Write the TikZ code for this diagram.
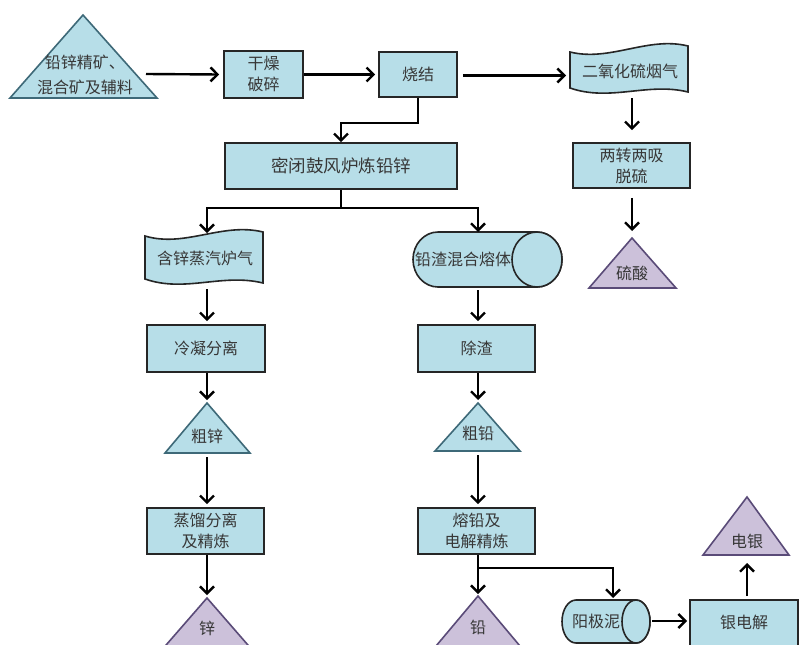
\documentclass[tikz,border=0pt]{standalone}
\usepackage{fontspec}
\newfontfamily\cjk{Noto Sans CJK SC}
\usetikzlibrary{arrows.meta}
\definecolor{bluef}{RGB}{183,222,232}
\definecolor{purf}{RGB}{204,193,218}
\definecolor{tribd}{RGB}{62,105,120}
\definecolor{purbd}{RGB}{90,75,120}
\definecolor{txt}{RGB}{55,55,55}
\begin{document}
\begin{tikzpicture}[x=1pt,y=-1pt,
  txtstyle/.style={inner sep=0pt,align=center,text=txt,font=\cjk\fontsize{16}{21}\selectfont},
  box/.style={txtstyle,draw=black!85,fill=bluef,line width=1.6pt},
  lbl/.style={txtstyle},
  shp/.style={draw=black!85,fill=bluef,line width=1.6pt},
  tri/.style={draw=tribd,fill=bluef,line width=1.6pt,line join=miter},
  ptri/.style={draw=purbd,fill=purf,line width=1.6pt,line join=miter},
  arr/.style={line width=2.4pt,-{Straight Barb[length=7pt,width=14pt,line width=2.4pt]}},
  ln/.style={line width=2.4pt}]
\useasboundingbox (0,0) rectangle (801,645);
\fill[white] (0,0) rectangle (801,645);
\clip (0,0) rectangle (801,645);

% ---------- shapes ----------
\draw[tri] (83,15) -- (157,98) -- (10,98) -- cycle;
\node[lbl,font=\cjk\fontsize{16}{25}\selectfont] (T) at (85,75) {铅锌精矿、\\混合矿及辅料};
\coordinate (Tout) at (146,74);

\node[box,minimum width=79pt,minimum height=47pt] (A) at (263.5,74.5) {干燥\\破碎};
\node[box,minimum width=78pt,minimum height=45pt] (B) at (418,74.5) {烧结};

\draw[shp] (570,52) .. controls (610,62) and (648,36) .. (688,46) -- (688,92)
  .. controls (648,82) and (610,102) .. (570,88) -- cycle;
\node[lbl] (C) at (630,71) {二氧化硫烟气};
\coordinate (Cbot) at (632,98);

\node[box,minimum width=117pt,minimum height=45pt] (D) at (631.5,165.5) {两转两吸\\脱硫};
\draw[ptri] (632,238) -- (676,288) -- (589,288) -- cycle;
\coordinate (Etop) at (632,238);
\node[lbl] (E) at (632,273) {硫酸};

\node[box,minimum width=232pt,minimum height=46pt,font=\cjk\fontsize{17.5}{21}\selectfont] (F) at (341,166) {密闭鼓风炉炼铅锌};

\draw[shp] (145,236) .. controls (185,248) and (222,222) .. (263,232) -- (263,283)
  .. controls (222,273) and (185,293) .. (145,279) -- cycle;
\node[lbl] (G) at (205,258) {含锌蒸汽炉气};
\coordinate (Gtop) at (207,233);
\coordinate (Gbot) at (207,289);

\draw[shp] (537,287) -- (438,287) arc[start angle=90,end angle=270,x radius=25,y radius=27.5]
  -- (537,232) arc[start angle=-90,end angle=90,x radius=25,y radius=27.5] -- cycle;
\draw[shp] (537,259.5) ellipse[x radius=25,y radius=27.5];
\node[lbl] (H) at (463,259) {铅渣混合熔体};
\coordinate (Htop) at (478,232);
\coordinate (Hbot) at (478,290);

\node[box,minimum width=118pt,minimum height=47pt] (I) at (206,348.5) {冷凝分离};
\node[box,minimum width=117pt,minimum height=47pt] (J) at (476.5,348.5) {除渣};

\draw[tri] (207,403) -- (250,453) -- (165,453) -- cycle;
\coordinate (Ktop) at (207,403);
\coordinate (Kbot) at (207,457);
\node[lbl] (K) at (207,436) {粗锌};

\draw[tri] (478,403) -- (520,451) -- (435,451) -- cycle;
\coordinate (Ltop) at (478,403);
\coordinate (Lbot) at (478,455);
\node[lbl] (L) at (478,433) {粗铅};

\node[box,minimum width=117pt,minimum height=46pt] (M) at (205.5,531) {蒸馏分离\\及精炼};
\node[box,minimum width=117pt,minimum height=46pt] (N) at (476.5,531) {熔铅及\\电解精炼};

\draw[ptri] (207,598) -- (254,652) -- (160,652) -- cycle;
\coordinate (Otop) at (207,598);
\node[lbl] (O) at (207,628) {锌};

\draw[ptri] (478,596) -- (525,652) -- (431,652) -- cycle;
\coordinate (Ptop) at (478,596);
\node[lbl] (P) at (478,627) {铅};

\draw[shp] (636,643) -- (576,643) arc[start angle=90,end angle=270,x radius=14,y radius=21.5]
  -- (636,600) arc[start angle=-90,end angle=90,x radius=14,y radius=21.5] -- cycle;
\draw[shp] (636,621.5) ellipse[x radius=14,y radius=21.5];
\node[lbl] (Q) at (596,621) {阳极泥};
\coordinate (Qtop) at (613,600);
\coordinate (Qright) at (652,621);

\draw[shp] (690,600) rectangle (798,652);
\node[lbl] (R) at (744,622) {银电解};
\coordinate (Rtop) at (747,596);
\coordinate (Rleft) at (690,621);

\draw[ptri] (747,497) -- (789,555) -- (703,555) -- cycle;
\coordinate (Sbot) at (747,559);
\node[lbl] (S) at (747,541) {电银};

% ---------- connectors ----------
\draw[arr] (Tout) -- ([xshift=-4pt]A.west);
\draw[arr] (A.east) -- ([xshift=-3pt]B.west);
\draw[arr] ([xshift=5pt,yshift=-1pt]B.east) -- ([yshift=-1pt]B.east -| 566,0);
\draw[arr] (Cbot) -- ([yshift=12pt]D.north -| Cbot);
\draw[arr] ([yshift=-9pt]D.south -| Cbot) -- ([yshift=7pt]Etop);

\draw[ln] (B.south) -- (418,123) coordinate (bf1);
\draw[arr] ([xshift=1.2pt]bf1) -- (bf1 -| F.north) -- (F.north);

\draw[ln] (F.south) -- (341,208) coordinate (fs);
\draw[arr] (fs) -- (fs -| Gtop) -- (Gtop);
\draw[arr] (fs) -- (fs -| Htop) -- (Htop);

\draw[arr] (Gbot) -- ([yshift=3pt]I.north -| Gbot);
\draw[arr] (Hbot) -- ([yshift=3pt]J.north -| Hbot);
\draw[arr] (I.south -| Ktop) -- ([yshift=3pt]Ktop);
\draw[arr] (J.south -| Ltop) -- ([yshift=3pt]Ltop);
\draw[arr] (Kbot) -- ([yshift=3pt]M.north -| Kbot);
\draw[arr] (Lbot) -- ([yshift=3pt]N.north -| Lbot);
\draw[arr] (M.south -| Otop) -- ([yshift=3pt]Otop);
\draw[arr] (N.south -| Ptop) -- ([yshift=2pt]Ptop);
\draw[arr] (Ptop |- 0,568) -- (Qtop |- 0,568) -- ([yshift=2pt]Qtop);
\draw[arr] (Qright) -- ([xshift=-3pt]Rleft);
\draw[arr] (Rtop) -- ([yshift=-4pt]Sbot);
\end{tikzpicture}
\end{document}
